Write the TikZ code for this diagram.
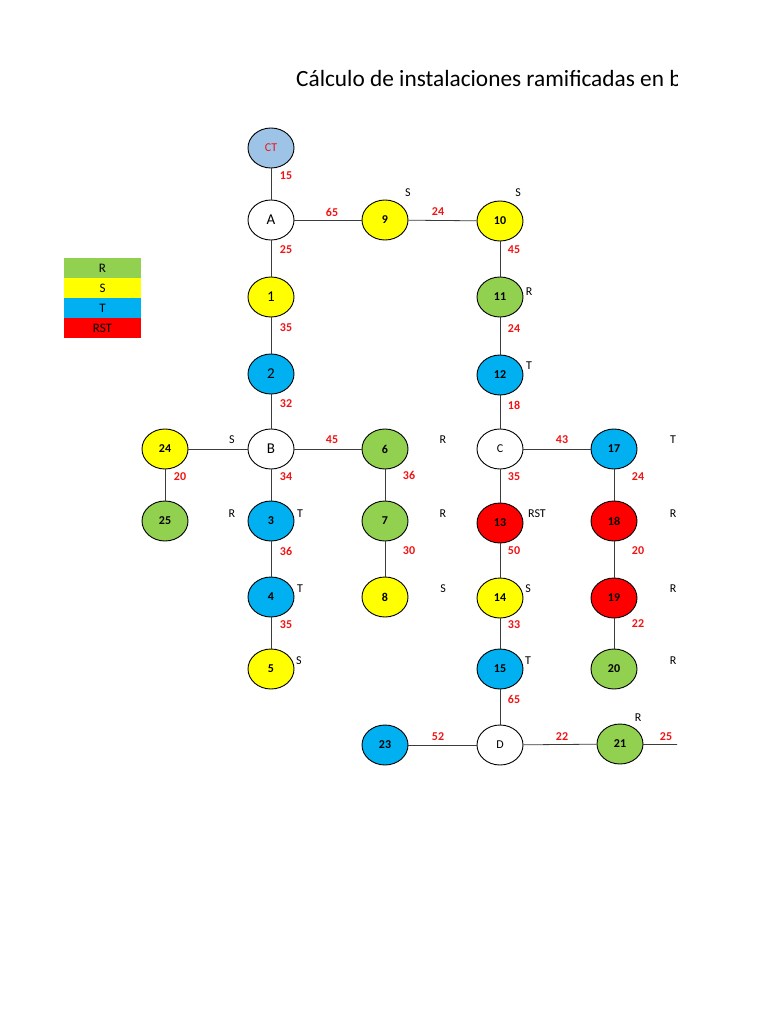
\documentclass[tikz,border=0pt]{standalone}
\usepackage{fontspec}
\setmainfont{Carlito}
\usetikzlibrary{shapes.geometric}
\definecolor{cR}{RGB}{146,208,80}
\definecolor{cS}{RGB}{255,255,0}
\definecolor{cT}{RGB}{0,176,240}
\definecolor{cRST}{RGB}{255,0,0}
\definecolor{cCT}{RGB}{157,195,230}
\definecolor{dist}{RGB}{240,20,20}
\definecolor{wire}{RGB}{60,60,60}
\tikzset{
  nd/.style={ellipse, draw=black, line width=0.9pt, minimum width=46pt, minimum height=40pt, inner sep=0pt, font=\fontsize{12}{13}\selectfont\bfseries},
  big/.style={font=\fontsize{15}{16}\selectfont},
  fR/.style={nd, fill=cR},
  fS/.style={nd, fill=cS},
  fT/.style={nd, fill=cT},
  fRST/.style={nd, fill=cRST},
  fW/.style={nd, fill=white},
  dl/.style={text=dist, font=\fontsize{12}{13}\selectfont\bfseries, inner sep=0pt},
  ph/.style={text=black, font=\fontsize{12}{13}\selectfont, inner sep=0pt},
  wr/.style={draw=wire, line width=0.8pt},
  leg/.style={minimum width=77pt, minimum height=20pt, inner sep=0pt, font=\fontsize{13}{14}\selectfont}
}
\begin{document}
\begin{tikzpicture}[x=1pt,y=-1pt]
\useasboundingbox[fill=white] (0,0) rectangle (768,1024);
\begin{scope}
\clip (0,0) rectangle (677,1024);
\node[anchor=base west, inner sep=0pt, font=\fontsize{23.3}{27}\selectfont] (title) at (296,87) {Cálculo de instalaciones ramificadas en b};
% legend
\node[leg, fill=cR] (legR) at (102.5,268) {R};
\node[leg, fill=cS] (legS) at (102.5,288) {S};
\node[leg, fill=cT] (legT) at (102.5,308) {T};
\node[leg, fill=cRST] (legRST) at (102.5,328) {RST};
% nodes
\node[nd, fill=cCT, text=dist, font=\fontsize{12}{13}\selectfont] (CT) at (271,148) {CT};
\node[fW, big] (A) at (271,220) {A};
\node[fS] (n9) at (385,220) {9};
\node[fS] (n10) at (500,221) {10};
\node[fS, big] (n1) at (271,297) {1};
\node[fR] (n11) at (500,297) {11};
\node[fT, big] (n2) at (271,374) {2};
\node[fT] (n12) at (500,375) {12};
\node[fW, big] (B) at (271,449) {B};
\node[fS] (n24) at (165,449) {24};
\node[fR] (n6) at (385,449) {6};
\node[fW, font=\fontsize{12}{13}\selectfont] (C) at (500,449) {C};
\node[fT] (n17) at (614,449) {17};
\node[fR] (n25) at (165,521) {25};
\node[fT] (n3) at (271,521) {3};
\node[fR] (n7) at (385,521) {7};
\node[fRST] (n13) at (500,523) {13};
\node[fRST] (n18) at (614,521) {18};
\node[fT] (n4) at (271,597) {4};
\node[fS] (n8) at (385,597) {8};
\node[fS] (n14) at (500,598) {14};
\node[fRST] (n19) at (614,598) {19};
\node[fS] (n5) at (271,669) {5};
\node[fT] (n15) at (500,669) {15};
\node[fR] (n20) at (614,669) {20};
\node[fT] (n23) at (385,745) {23};
\node[fW, font=\fontsize{12}{13}\selectfont] (D) at (500,745) {D};
\node[fR] (n21) at (620,744) {21};
\coordinate (end21) at (680,744);
% wires
\draw[wr] (CT) -- (A);
\draw[wr] (A) -- (n9);
\draw[wr] (n9) -- (n10);
\draw[wr] (n10) -- (n11);
\draw[wr] (n11) -- (n12);
\draw[wr] (n12) -- (C);
\draw[wr] (A) -- (n1);
\draw[wr] (n1) -- (n2);
\draw[wr] (n2) -- (B);
\draw[wr] (B) -- (n24);
\draw[wr] (B) -- (n6);
\draw[wr] (n24) -- (n25);
\draw[wr] (B) -- (n3);
\draw[wr] (n3) -- (n4);
\draw[wr] (n4) -- (n5);
\draw[wr] (n6) -- (n7);
\draw[wr] (n7) -- (n8);
\draw[wr] (C) -- (n17);
\draw[wr] (C) -- (n13);
\draw[wr] (n13) -- (n14);
\draw[wr] (n14) -- (n15);
\draw[wr] (n15) -- (D);
\draw[wr] (n17) -- (n18);
\draw[wr] (n18) -- (n19);
\draw[wr] (n19) -- (n20);
\draw[wr] (D) -- (n23);
\draw[wr] (D) -- (n21);
\draw[wr] (n21) -- (end21);
% distances
\node[dl] (d1) at (286,176) {15};
\node[dl] (d2) at (332,212) {65};
\node[dl] (d3) at (438,212) {24};
\node[dl] (d4) at (286,250) {25};
\node[dl] (d5) at (514,250) {45};
\node[dl] (d6) at (286,328) {35};
\node[dl] (d7) at (514,329) {24};
\node[dl] (d8) at (286,404) {32};
\node[dl] (d9) at (514,405) {18};
\node[dl] (d10) at (332,440) {45};
\node[dl] (d11) at (562,440) {43};
\node[dl] (d12) at (180,477) {20};
\node[dl] (d13) at (286,477) {34};
\node[dl] (d14) at (409,475) {36};
\node[dl] (d15) at (514,477) {35};
\node[dl] (d16) at (638,477) {24};
\node[dl] (d17) at (286,551) {36};
\node[dl] (d18) at (409,551) {30};
\node[dl] (d19) at (514,551) {50};
\node[dl] (d20) at (638,551) {20};
\node[dl] (d21) at (286,625) {35};
\node[dl] (d22) at (514,625) {33};
\node[dl] (d23) at (638,624) {22};
\node[dl] (d24) at (514,699) {65};
\node[dl] (d25) at (438,737) {52};
\node[dl] (d26) at (562,737) {22};
\node[dl] (d27) at (666,737) {25};
% phases
\node[ph] (p1) at (408,193) {S};
\node[ph] (p2) at (518,193) {S};
\node[ph] (p3) at (529,292) {R};
\node[ph] (p4) at (529,366) {T};
\node[ph] (p5) at (232,440) {S};
\node[ph] (p6) at (443,440) {R};
\node[ph] (p7) at (673,440) {T};
\node[ph] (p8) at (232,514) {R};
\node[ph] (p9) at (300,514) {T};
\node[ph] (p10) at (443,514) {R};
\node[ph] (p11) at (537,514) {RST};
\node[ph] (p12) at (673,514) {R};
\node[ph] (p13) at (300,589) {T};
\node[ph] (p14) at (443,589) {S};
\node[ph] (p15) at (528,589) {S};
\node[ph] (p16) at (673,589) {R};
\node[ph] (p17) at (299,661) {S};
\node[ph] (p18) at (528,661) {T};
\node[ph] (p19) at (673,661) {R};
\node[ph] (p20) at (638,718) {R};
\end{scope}
\end{tikzpicture}
\end{document}
